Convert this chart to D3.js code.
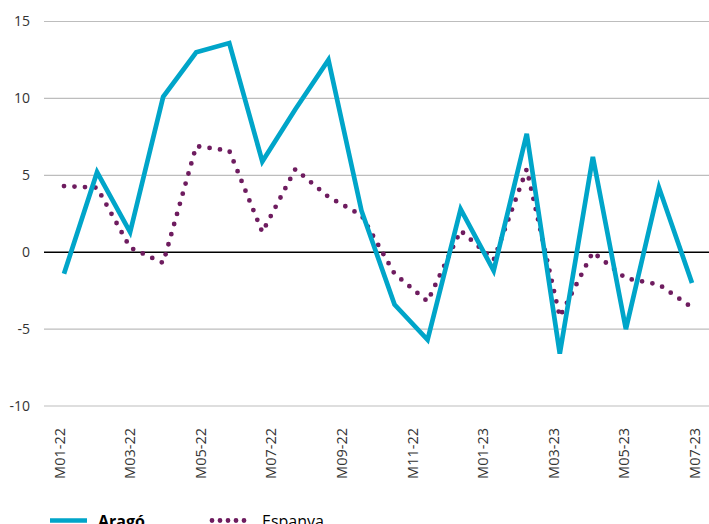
<!DOCTYPE html>
<html>
<head>
<meta charset="utf-8">
<script src="https://cdn.jsdelivr.net/npm/d3@7"></script>
<style>
  body { margin: 0; background: #fff; }
  svg { display: block; font-family: "Open Sans", "Noto Sans", sans-serif; }
</style>
</head>
<body>
<div id="chart"></div>
<script>
// months shown in the picture (20 points per series)
var months = ["M01-22", "M02-22", "M03-22", "M04-22", "M05-22", "M06-22", "M07-22", "M08-22", "M09-22", "M10-22",
              "M11-22", "M12-22", "M01-23", "M02-23", "M03-23", "M04-23", "M05-23", "M06-23", "M07-23", "M08-23"];
var arago   = [-1.4, 5.2, 1.3, 10.1, 13.0, 13.6, 5.9, 9.3, 12.5, 2.7,
               -3.4, -5.7, 2.8, -1.2, 7.7, -6.6, 6.2, -5.0, 4.2, -2.0];
var espanya = [4.3, 4.2, 0.3, -0.7, 6.9, 6.6, 1.3, 5.4, 3.6, 2.4,
               -1.4, -3.2, 1.4, -0.5, 5.4, -4.2, 0.0, -1.7, -2.1, -3.6];
// axis labels as printed under the plot
var tickLabels = ["M01-22", "M03-22", "M05-22", "M07-22", "M09-22", "M11-22", "M01-23", "M03-23", "M05-23", "M07-23"];
var yTicks = [-10, -5, 0, 5, 10, 15];

(function () {
    var width = 709, height = 524;
    var plotLeft = 44, plotRight = 709, plotTop = 21.5, plotBottom = 406;

    var svg = d3.select("#chart").append("svg")
        .attr("width", width)
        .attr("height", height);

    var x = d3.scalePoint().domain(months).range([64, 692]);
    var xLab = d3.scalePoint().domain(tickLabels).range([plotLeft, plotRight]).padding(0.21);
    var y = d3.scaleLinear().domain([-10, 15]).range([plotBottom, plotTop]);

    // grid
    svg.append("g").selectAll("line")
        .data(yTicks.filter(function (d) { return d !== 0; }))
        .enter().append("line")
        .attr("x1", plotLeft).attr("x2", plotRight)
        .attr("y1", function (d) { return y(d); })
        .attr("y2", function (d) { return y(d); })
        .attr("stroke", "#bdbdbd")
        .attr("stroke-width", 1.2);

    // y labels (plain hyphen for negatives, like the original)
    var yAxis = svg.append("g")
        .attr("transform", "translate(30,0)")
        .call(d3.axisLeft(y).tickValues(yTicks).tickSize(0).tickPadding(0)
            .tickFormat(function (d) { return String(d); }));
    yAxis.select(".domain").remove();
    yAxis.selectAll("text")
        .attr("font-size", 14)
        .attr("font-family", "'Open Sans', sans-serif")
        .attr("fill", "#333");

    // zero line
    svg.append("line")
        .attr("x1", plotLeft).attr("x2", plotRight)
        .attr("y1", y(0)).attr("y2", y(0))
        .attr("stroke", "#000")
        .attr("stroke-width", 1.5);

    // x labels
    var xAxis = svg.append("g")
        .attr("transform", "translate(0," + (plotBottom + 22) + ")")
        .call(d3.axisBottom(xLab).tickSize(0).tickPadding(0));
    xAxis.select(".domain").remove();
    xAxis.selectAll("text")
        .attr("font-size", 14.5)
        .attr("font-family", "'Open Sans', sans-serif")
        .attr("fill", "#333")
        .attr("transform", "rotate(-90)")
        .attr("text-anchor", "end")
        .attr("x", 0)
        .attr("y", 0)
        .attr("dy", "0.36em");

    var line = d3.line()
        .x(function (d, i) { return x(months[i]); })
        .y(function (d) { return y(d); });

    // Espanya dotted
    svg.append("path")
        .datum(espanya)
        .attr("d", line)
        .attr("fill", "none")
        .attr("stroke", "#6e1c5f")
        .attr("stroke-width", 4.8)
        .attr("stroke-linecap", "round")
        .attr("stroke-dasharray", "0 10.5");

    // Aragó solid
    svg.append("path")
        .datum(arago)
        .attr("d", line)
        .attr("fill", "none")
        .attr("stroke", "#00a5c9")
        .attr("stroke-width", 4.7)
        .attr("stroke-linejoin", "miter");

    // legend
    var leg = svg.append("g").attr("transform", "translate(0,520.5)");
    leg.append("line")
        .attr("x1", 50).attr("x2", 87)
        .attr("stroke", "#00a5c9").attr("stroke-width", 4.7);
    leg.append("text")
        .attr("x", 98).attr("y", 6)
        .attr("font-size", 16).attr("font-weight", "bold")
        .attr("fill", "#000")
        .text("Aragó");
    leg.append("line")
        .attr("x1", 212).attr("x2", 252)
        .attr("stroke", "#6e1c5f").attr("stroke-width", 4.8)
        .attr("stroke-linecap", "round")
        .attr("stroke-dasharray", "0 8");
    leg.append("text")
        .attr("x", 262).attr("y", 6)
        .attr("font-size", 16)
        .attr("fill", "#000")
        .text("Espanya");
}());
</script>
</body>
</html>
